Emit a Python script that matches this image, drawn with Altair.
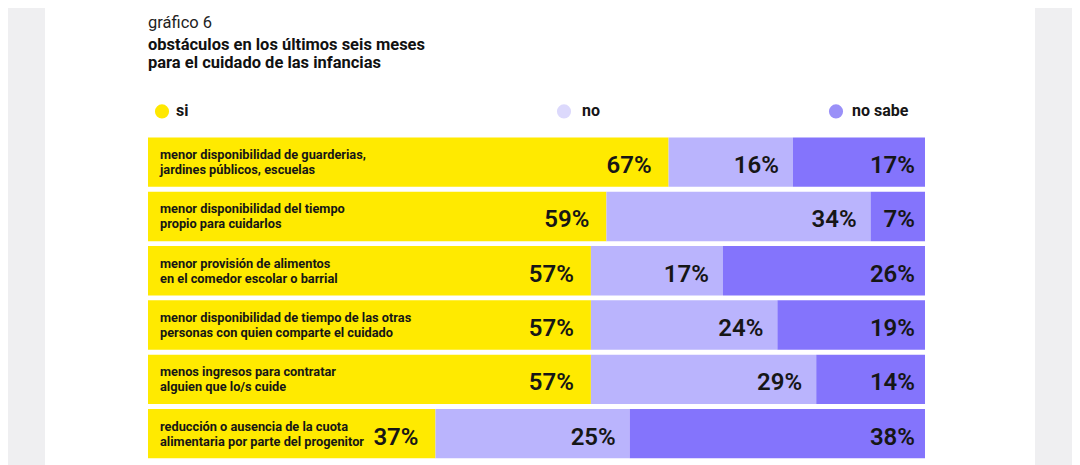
import altair as alt
import pandas as pd

# ---- data ----
categories = [
    "menor disponibilidad de guarderias,\njardines públicos, escuelas",
    "menor disponibilidad del tiempo\npropio para cuidarlos",
    "menor provisión de alimentos\nen el comedor escolar o barrial",
    "menor disponibilidad de tiempo de las otras\npersonas con quien comparte el cuidado",
    "menos ingresos para contratar\nalguien que lo/s cuide",
    "reducción o ausencia de la cuota\nalimentaria por parte del progenitor",
]
si = [67, 59, 57, 57, 57, 37]
no = [16, 34, 17, 24, 29, 25]
no_sabe = [17, 7, 26, 19, 14, 38]
series = ["si", "no", "no sabe"]

title_line = "gráfico 6"
subtitle_lines = ["obstáculos en los últimos seis meses", "para el cuidado de las infancias"]

# ---- styles ----
bar_colors = ["#FFEA00", "#BAB4FD", "#8474FC"]
legend_colors = ["#FFE800", "#DCD9FC", "#9A90F8"]
FONT = "Roboto"
TXT = "#161616"
W = 777
STEP = 54.3
H = STEP * len(categories)

rows = []
for i, c in enumerate(categories):
    for j, (s, vals) in enumerate(zip(series, [si, no, no_sabe])):
        rows.append({"cat": c, "serie": s, "order": j, "value": vals[i], "label": f"{vals[i]}%"})
df = pd.DataFrame(rows)

base = alt.Chart(df).transform_stack(
    stack="value", groupby=["cat"], as_=["x0", "x1"], sort=[alt.SortField("order")]
)

xscale = alt.Scale(domain=[0, 100], nice=False, zero=True)
yenc = alt.Y("cat:N", sort=categories, axis=None,
             scale=alt.Scale(paddingInner=0.09, paddingOuter=0.045))

bars = base.mark_bar().encode(
    x=alt.X("x0:Q", scale=xscale, axis=None),
    x2="x1:Q",
    y=yenc,
    color=alt.Color("serie:N", scale=alt.Scale(domain=series, range=bar_colors), legend=None),
)

cat_labels = base.transform_filter(alt.datum.order == 0).mark_text(
    align="left", baseline="middle", dx=12, dy=-7, font=FONT, fontSize=12.8,
    fontWeight="bold", color=TXT, lineBreak="\n", lineHeight=15,
).encode(x=alt.value(0), y=yenc, text="cat:N")

pct_layers = []
for j, dx in zip(range(3), [-17, -14, -10]):
    pct_layers.append(
        base.transform_filter(alt.datum.order == j).mark_text(
            align="right", baseline="alphabetic", dx=dx, dy=11, font=FONT,
            fontSize=24, fontWeight=600, color=TXT,
        ).encode(x=alt.X("x1:Q", scale=xscale), y=yenc, text="label:N")
    )

# legend drawn as marks
one = pd.DataFrame({"k": [0]})
legend_layers = []
for s, col, cx, tx in zip(series, legend_colors, [14, 416, 688], [28, 434, 704]):
    legend_layers.append(alt.Chart(one).mark_circle(size=200, opacity=1, color=col).encode(
        x=alt.value(cx), y=alt.value(-23.6)))
    legend_layers.append(alt.Chart(one).mark_text(
        align="left", baseline="middle", font=FONT, fontSize=16, fontWeight="bold", color=TXT, text=s
    ).encode(x=alt.value(tx), y=alt.value(-23.6)))

# title as text
title_layers = [
    alt.Chart(one).mark_text(align="left", baseline="alphabetic", font=FONT, fontSize=16.5,
                             fontWeight="normal", color="#222222", text=title_line
                             ).encode(x=alt.value(0), y=alt.value(-106.6)),
    alt.Chart(one).mark_text(align="left", baseline="alphabetic", font=FONT, fontSize=16.5,
                             fontWeight="bold", color="#111111", text=subtitle_lines[0]
                             ).encode(x=alt.value(0), y=alt.value(-84.6)),
    alt.Chart(one).mark_text(align="left", baseline="alphabetic", font=FONT, fontSize=16.5,
                             fontWeight="bold", color="#111111", text=subtitle_lines[1]
                             ).encode(x=alt.value(0), y=alt.value(-66.6)),
]

# page side strips (grey background outside the white panel)
strips = [
    alt.Chart(one).mark_rect(color="#EFEFF1").encode(
        x=alt.value(-141), x2=alt.value(-103), y=alt.value(-128), y2=alt.value(335)),
    alt.Chart(one).mark_rect(color="#EFEFF1").encode(
        x=alt.value(887), x2=alt.value(930), y=alt.value(-128), y2=alt.value(335)),
]

chart = alt.layer(*strips, bars, cat_labels, *pct_layers, *legend_layers, *title_layers).properties(
    width=W, height=H,
    autosize=alt.AutoSizeParams(type="none"),
    padding={"left": 140, "top": 127, "right": 147, "bottom": 4},
    background="white",
).configure_view(stroke=None)

chart.save("out.html", embed_options={"renderer": "svg", "actions": False})
